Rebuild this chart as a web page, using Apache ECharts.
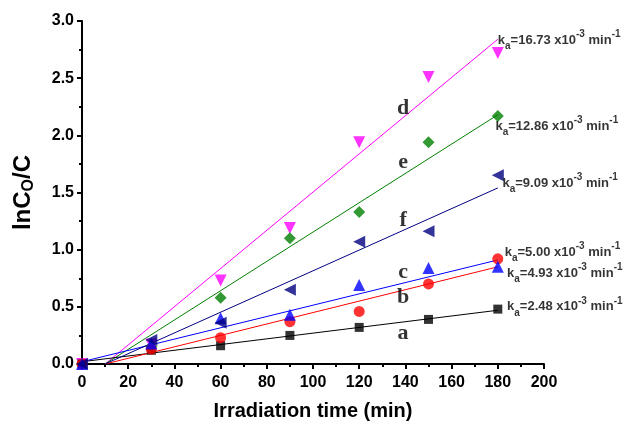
<!DOCTYPE html>
<html>
<head>
<meta charset="utf-8">
<script src="https://cdn.jsdelivr.net/npm/echarts@6/dist/echarts.min.js"></script>
<style>
  html, body { margin: 0; padding: 0; background: #fff; }
  #chart { width: 626px; height: 428px; }
</style>
</head>
<body>
<div id="chart"></div>
<script>
  // irradiation times (min)
  const times = [0, 30, 60, 90, 120, 150, 180];

  // ln(C0/C) per sample
  const seriesA = [0, 0.12, 0.16, 0.25, 0.32, 0.39, 0.48];
  const seriesB = [0, 0.13, 0.23, 0.37, 0.46, 0.70, 0.92];
  const seriesC = [0, 0.18, 0.40, 0.43, 0.69, 0.84, 0.85];
  const seriesD = [0, 0.17, 0.73, 1.19, 1.94, 2.51, 2.72];
  const seriesE = [0, 0.15, 0.58, 1.10, 1.33, 1.94, 2.17];
  const seriesF = [0, 0.21, 0.36, 0.65, 1.07, 1.16, 1.65];

  // linear fits: start point, end point
  const fitA = [[0, 0.02], [180, 0.47]];
  const fitB = [[10, 0], [180, 0.85]];
  const fitC = [[0, 0.02], [180, 0.91]];
  const fitD = [[10, 0], [180, 2.84]];
  const fitE = [[10, 0], [180, 2.18]];
  const fitF = [[10, 0], [180, 1.54]];

  // curve letters and rate constants
  const letters = ['a', 'b', 'c', 'd', 'e', 'f'];
  const letterPos = [[139, 0.27], [139, 0.58], [139, 0.80], [139, 2.24], [139, 1.76], [139, 1.26]];
  const rates = ['2.48', '5.00', '4.93', '16.73', '12.86', '9.09'];
  const ratePos = [[184, 0.50], [183, 0.98], [184, 0.79], [180, 2.83], [179, 2.08], [182, 1.58]];

  const FONT = 'Liberation Sans, Arial, sans-serif';

  // drawing order: magenta and green first, navy last (on top)
  const SETS = [
    { data: seriesD, fit: fitD, color: '#ff00ff', symbol: 'triangle', size: 12, rot: 180 },
    { data: seriesE, fit: fitE, color: '#008000', symbol: 'diamond', size: 12, rot: 0 },
    { data: seriesA, fit: fitA, color: '#000000', symbol: 'rect', size: 9, rot: 0 },
    { data: seriesB, fit: fitB, color: '#ff0000', symbol: 'circle', size: 11, rot: 0 },
    { data: seriesC, fit: fitC, color: '#0000ff', symbol: 'triangle', size: 12, rot: 0 },
    { data: seriesF, fit: fitF, color: '#000080', symbol: 'triangle', size: 12, rot: 90 },
  ];

  const chart = echarts.init(document.getElementById('chart'), null, { renderer: 'canvas' });

  const series = [];
  SETS.forEach(s => {
    series.push({
      type: 'line', data: s.fit, symbol: 'none', silent: true, z: 2,
      lineStyle: { color: s.color, width: 1 },
    });
    series.push({
      type: 'scatter', data: times.map((t, i) => [t, s.data[i]]), z: 3,
      symbol: s.symbol, symbolSize: s.size, symbolRotate: s.rot,
      itemStyle: { color: s.color },
    });
  });

  // curve letters (serif, bold)
  series.push({
    type: 'scatter', symbolSize: 0, silent: true, z: 5,
    data: letterPos.map((p, i) => ({ value: p, name: letters[i] })),
    label: {
      show: true, position: 'inside', formatter: p => p.name,
      color: '#000', fontFamily: 'Liberation Serif, Times New Roman, serif',
      fontWeight: 'bold', fontSize: 22,
    },
  });

  // k_a annotations
  series.push({
    type: 'scatter', symbolSize: 0, silent: true, z: 5,
    data: ratePos.map((p, i) => ({ value: p, name: rates[i] })),
    label: {
      show: true, position: 'right', distance: 0,
      formatter: p => `{t|k}{sub|a}{t|=${p.name} x10}{sup|-3}{t| min}{sup|-1}`,
      rich: {
        t: { fontFamily: FONT, fontWeight: 'bold', fontSize: 13, color: '#000', lineHeight: 22, verticalAlign: 'middle' },
        sub: { fontFamily: FONT, fontWeight: 'bold', fontSize: 10, color: '#000', lineHeight: 22, verticalAlign: 'bottom' },
        sup: { fontFamily: FONT, fontWeight: 'bold', fontSize: 10, color: '#000', lineHeight: 22, verticalAlign: 'top' },
      },
    },
  });

  const axisCommon = {
    axisLine: { show: true, onZero: false, lineStyle: { color: '#000', width: 2 } },
    axisTick: { show: true, inside: false, length: 5, lineStyle: { color: '#000', width: 2 } },
    minorTick: { show: true, splitNumber: 2, length: 3, lineStyle: { color: '#000', width: 2 } },
    splitLine: { show: false },
    axisLabel: { color: '#000', fontFamily: FONT, fontWeight: 'bold', fontSize: 16 },
  };

  chart.setOption({
    backgroundColor: '#fff',
    animation: false,
    grid: { left: 82, right: 82, top: 21, bottom: 64, containLabel: false },
    xAxis: Object.assign({}, axisCommon, {
      type: 'value', min: 0, max: 200, interval: 20,
      name: 'Irradiation time (min)', nameLocation: 'middle', nameGap: 37,
      nameTextStyle: { color: '#000', fontFamily: FONT, fontWeight: 'bold', fontSize: 20 },
      axisLabel: Object.assign({}, axisCommon.axisLabel, { margin: 11 }),
    }),
    yAxis: Object.assign({}, axisCommon, {
      type: 'value', min: 0, max: 3, interval: 0.5,
      name: '{t|lnC}{sub|O}{t|/C}', nameLocation: 'middle', nameGap: 45, nameRotate: 90,
      nameTextStyle: {
        rich: {
          t: { fontFamily: FONT, fontWeight: 'bold', fontSize: 24, color: '#000', lineHeight: 28, verticalAlign: 'middle' },
          sub: { fontFamily: FONT, fontWeight: 'bold', fontSize: 16, color: '#000', lineHeight: 28, verticalAlign: 'bottom' },
        },
      },
      axisLabel: Object.assign({}, axisCommon.axisLabel, { margin: 8, formatter: v => v.toFixed(1) }),
    }),
    series,
  });
</script>
</body>
</html>
